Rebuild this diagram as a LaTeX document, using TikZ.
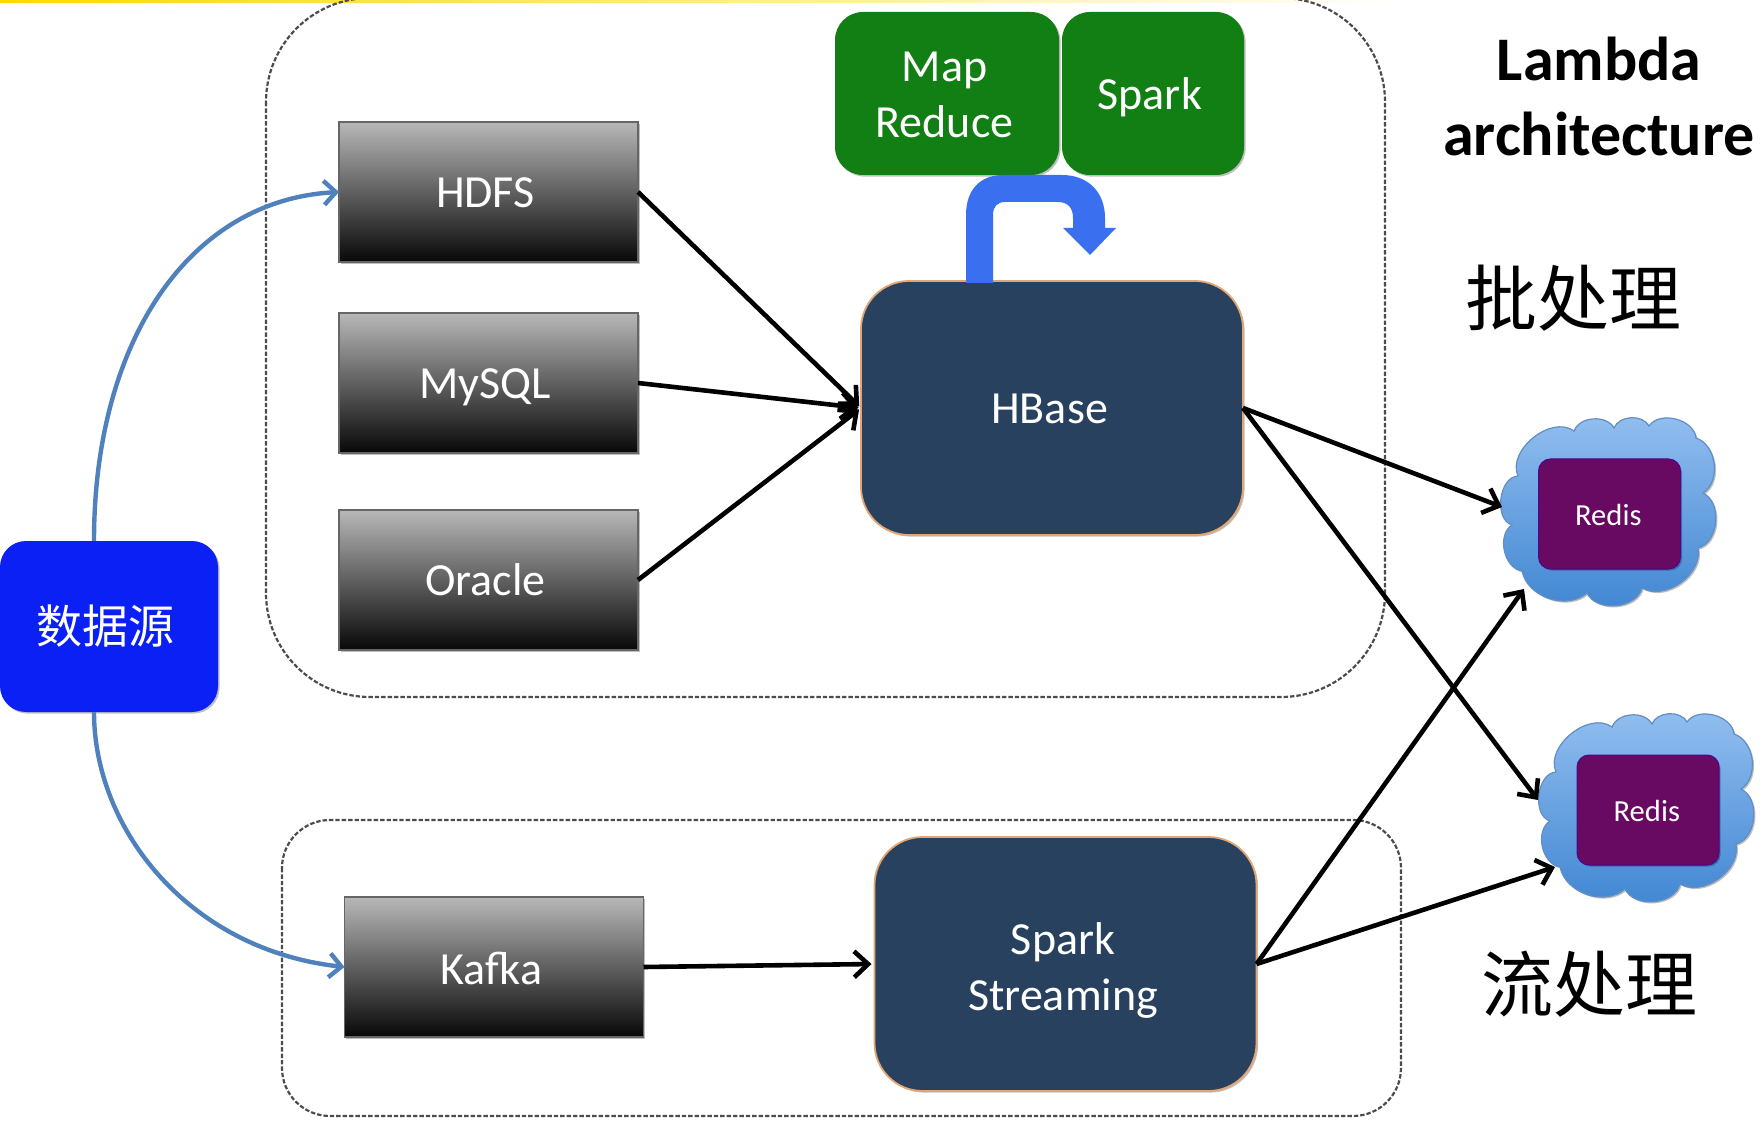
\documentclass[tikz,border=0pt]{standalone}
\usepackage{fontspec}
\setmainfont{Carlito}
\newfontfamily\cjk{Noto Sans CJK SC}
\usetikzlibrary{arrows.meta,shadows,shadings}
\definecolor{navy}{HTML}{28415F}
\definecolor{edgeorange}{HTML}{E3A673}
\definecolor{grn}{HTML}{117F14}
\definecolor{srcblue}{HTML}{0A20F5}
\definecolor{curveblue}{HTML}{4F81BD}
\definecolor{bentblue}{HTML}{3A6FF0}
\definecolor{purp}{HTML}{680A62}
\definecolor{cloudtop}{HTML}{94BFF0}
\definecolor{cloudbot}{HTML}{3F86D2}
\tikzset{
  softshadow/.style={drop shadow={shadow xshift=0.8pt,shadow yshift=-0.8pt,opacity=.25,fill=black}},
  base/.style={inner sep=0pt,outer sep=0pt,align=center,text=white,font=\fontsize{23}{28}\selectfont},
  txt/.style n args={3}{label={[base,xshift=#1,yshift=#2]center:{#3}}},
  smalltxt/.style n args={3}{label={[base,font=\fontsize{15.3}{18}\selectfont,xshift=#1,yshift=#2]center:{#3}}},
  store/.style={base,rectangle,draw=black!60,line width=0.7pt,top color=black!28,bottom color=black!97,
    minimum width=149.5pt,minimum height=70pt,softshadow},
  engine/.style={base,rectangle,rounded corners=24pt,draw=edgeorange,line width=0.9pt,fill=navy,
    minimum width=191pt,minimum height=127pt,softshadow},
  batch/.style={base,rectangle,rounded corners=14pt,fill=grn,minimum height=81.5pt,softshadow},
  redis/.style={base,rectangle,rounded corners=6pt,fill=purp,draw=purp!70!blue,line width=0.5pt,
    minimum width=71pt,minimum height=55pt,softshadow},
  region/.style={draw=black!70,dash pattern=on 2.2pt off 1pt,line width=1.1pt},
  flow/.style={draw=black,line width=2.3pt,-{Straight Barb[length=7pt,width=13pt,line width=2.3pt]}},
  ingest/.style={draw=curveblue,line width=2.2pt,-{Straight Barb[length=6pt,width=12pt,line width=2.2pt]}},
  cloudfill/.style={draw=curveblue!90,line width=0.6pt,top color=cloudtop,bottom color=cloudbot,softshadow},
  heading/.style={inner sep=0pt,align=center,text=black},
}
\newcommand{\puffcloud}{%
  \path[cloudfill] (16,60) to[bend left=75] (72,15) to[bend left=65] (112,12) to[bend left=65] (147,10)
    to[bend left=70] (194,22) to[bend left=65] (201,77) to[bend left=70] (196,132)
    to[bend left=65] (140,172) to[bend left=70] (85,177) to[bend left=60] (20,155)
    to[bend left=70] (10,109) to[bend left=80] (16,60) -- cycle;%
}
\begin{document}
\begin{tikzpicture}[x=0.5pt,y=-0.5pt]
\useasboundingbox (0,0) rectangle (1762,1128);
\clip (0,0) rectangle (1762,1128);
\fill[white] (0,0) rectangle (1762,1128);
% top strip
\shade[left color=yellow!70!orange,right color=white] (0,0) rectangle (1400,3);
% regions
\draw[region,rounded corners=52pt] (266,-2) rectangle (1385,697);
\draw[region,rounded corners=24pt] (282,820) rectangle (1401,1116);
% ingest anchor points
\coordinate (srcup) at (94,541);
\coordinate (srcdown) at (94,712);
% clouds
\begin{scope}[shift={(1502,416)}]\puffcloud\end{scope}
\begin{scope}[shift={(1540,712)}]\puffcloud\end{scope}
\coordinate (cloudAleft) at (1502,507);
\coordinate (cloudAlow) at (1524,589);
\coordinate (cloudBleft) at (1538,800);
\coordinate (cloudBlow) at (1555,867);
% nodes
\node[store,txt={-1.6pt}{-0.6pt}{HDFS}] (hdfs) at (488.5,192) {};
\node[store,txt={-1.6pt}{-2pt}{MySQL}] (mysql) at (488.5,383) {};
\node[store,txt={-1.6pt}{0pt}{Oracle}] (oracle) at (488.5,580) {};
\node[store,txt={-1.2pt}{-0.6pt}{Kafka}] (kafka) at (494,967) {};
\node[engine,txt={-1.2pt}{-0.6pt}{HBase}] (hbase) at (1052,408) {};
\node[engine,txt={-1.2pt}{-3pt}{Spark\\Streaming}] (stream) at (1065.5,964) {};
\node[batch,minimum width=112pt,txt={-1.2pt}{-0.6pt}{Map\\Reduce}] (mr) at (947,93.5) {};
\node[batch,minimum width=91pt,txt={-1.6pt}{-2pt}{Spark}] (spark) at (1153,93.5) {};
\node[base,rectangle,rounded corners=13pt,fill=srcblue,minimum width=109pt,minimum height=85.5pt,softshadow,
  txt={-1.8pt}{0pt}{\fontsize{23}{28}\cjk 数据源}] (src) at (109,626.5) {};
\node[redis,smalltxt={-0.6pt}{-0.6pt}{Redis}] (redisA) at (1609.5,514) {};
\node[redis,smalltxt={-0.6pt}{-0.6pt}{Redis}] (redisB) at (1648,810) {};
% bent arrow
\fill[bentblue] (966,283) -- (966,215) .. controls (966,190) and (980,175) .. (1003,175)
  -- (1062,175) .. controls (1088,175) and (1105,192) .. (1105,218) -- (1105,228) -- (1116,228)
  -- (1090,255) -- (1063,228) -- (1073,228) -- (1073,218) .. controls (1073,208) and (1068,202) .. (1058,202)
  -- (1005,202) .. controls (997,202) and (993,207) .. (993,215) -- (993,283) -- cycle;
% ingest curves
\draw[ingest] (srcup) .. controls (94,340) and (190,200) .. (hdfs.west);
\draw[ingest] (srcdown) .. controls (94,830) and (190,950) .. (kafka.west);
% flows
\draw[flow,shorten >=1.2pt] (hdfs.east) -- (hbase.west);
\draw[flow,shorten >=1.2pt] (mysql.east) -- (hbase.west);
\draw[flow,shorten >=1.2pt] (oracle.east) -- (hbase.west);
\draw[flow] (hbase.east) -- (cloudAleft);
\draw[flow] (hbase.east) -- (cloudBleft);
\draw[flow] (stream.east) -- (cloudAlow);
\draw[flow] (stream.east) -- (cloudBlow);
\draw[flow,shorten >=1.5pt] (kafka.east) -- (stream.west);
% headings
\node[heading,font=\fontsize{31}{37.5}\selectfont\bfseries] (lambda) at (1599,96) {Lambda\\architecture};
\node[heading,font=\fontsize{36}{43}\selectfont\cjk] (batchlabel) at (1573,298) {批处理};
\node[heading,font=\fontsize{36}{43}\selectfont\cjk] (streamlabel) at (1589,984) {流处理};
\end{tikzpicture}
\end{document}
